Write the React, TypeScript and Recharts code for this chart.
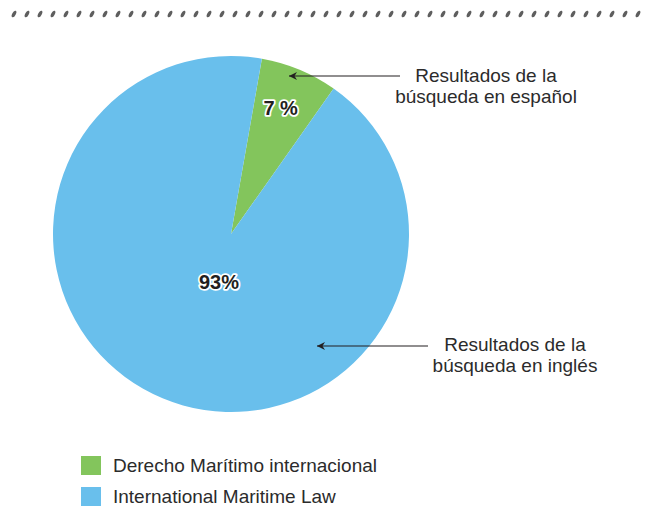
import React from 'react';
import { PieChart, Pie, Cell, Legend } from 'recharts';

const categories = ['Derecho Marítimo internacional', 'International Maritime Law'];
const values = [7, 93];
const valueLabels = ['7 %', '93%'];
const colors = ['#83c55c', '#69bfec'];
const labelRadius = [137, 52];
const labelDx = [-3, 8];
const annotations = [
  { lines: ['Resultados de la', 'búsqueda en español'], cx: 486, y: 82, x1: 400, x2: 289, ay: 76 },
  { lines: ['Resultados de la', 'búsqueda en inglés'], cx: 515, y: 351, x1: 428, x2: 317, ay: 346 },
];

const data = categories.map((name, i) => ({ name, value: values[i], label: valueLabels[i] }));
const FONT = '"Liberation Sans", Arial, sans-serif';
const RAD = Math.PI / 180;

const renderLabel = (props: any) => {
  const { cx, cy, midAngle, index } = props;
  const r = labelRadius[index];
  const x = cx + r * Math.cos(-midAngle * RAD) + labelDx[index];
  const y = cy + r * Math.sin(-midAngle * RAD);
  return (
    <text x={x} y={y} textAnchor="middle" dominantBaseline="central" fontFamily={FONT} fontWeight="bold" fontSize={20}
      fill="#231f20" stroke="#ffffff" strokeWidth={3.5} paintOrder="stroke" strokeLinejoin="round">
      {data[index].label}
    </text>
  );
};

const renderLegend = () => (
  <div style={{ fontFamily: FONT, position: 'absolute', left: 81, top: 0 }}>
    {data.map((d, i) => (
      <div key={d.name} style={{ display: 'flex', alignItems: 'center', height: 31 }}>
        <div style={{ width: 20, height: 19, background: colors[i], marginRight: 12 }} />
        <span style={{ fontSize: 19, color: '#2b2b2b', whiteSpace: 'nowrap' }}>{d.name}</span>
      </div>
    ))}
  </div>
);

export default function App() {
  return (
    <div style={{ position: 'absolute', left: 0, top: 0, width: 648, height: 508, background: '#fff' }}>
      <PieChart width={648} height={508} margin={{ top: 0, right: 0, bottom: 0, left: 0 }}>
        <Pie data={data} dataKey="value" nameKey="name" cx={231} cy={234} outerRadius={178}
          startAngle={80} endAngle={-280} stroke="none" label={renderLabel} labelLine={false} isAnimationActive={false}>
          {data.map((d, i) => <Cell key={d.name} fill={colors[i]} />)}
        </Pie>
        <Legend content={renderLegend} layout="horizontal" verticalAlign="bottom" align="left"
          wrapperStyle={{ left: 0, top: 450, width: 648, height: 62 }} />
      </PieChart>
      <svg width={648} height={508} style={{ position: 'absolute', left: 0, top: 0, pointerEvents: 'none' }}>
        <defs>
          <pattern id="dots" x={8} y={0} width={13} height={30} patternUnits="userSpaceOnUse">
            <ellipse cx={6} cy={14} rx={1.8} ry={3.6} transform="rotate(28 6 14)" fill="#5e5e5e" />
          </pattern>
          <marker id="ah" markerWidth={10} markerHeight={10} refX={9} refY={5} orient="auto" markerUnits="userSpaceOnUse">
            <path d="M1,1 L9,5 L1,9 L3.5,5 Z" fill="#231f20" />
          </marker>
        </defs>
        <rect x={8} y={6} width={634} height={18} fill="url(#dots)" />
        {annotations.map((a, i) => (
          <g key={i}>
            <line x1={a.x1} y1={a.ay} x2={a.x2} y2={a.ay} stroke="#231f20" strokeWidth={1.2} markerEnd="url(#ah)" />
            {a.lines.map((t, j) => (
              <text key={j} x={a.cx} y={a.y + j * 21} textAnchor="middle" fontFamily={FONT} fontSize={19} fill="#2b2b2b">{t}</text>
            ))}
          </g>
        ))}
      </svg>
    </div>
  );
}
